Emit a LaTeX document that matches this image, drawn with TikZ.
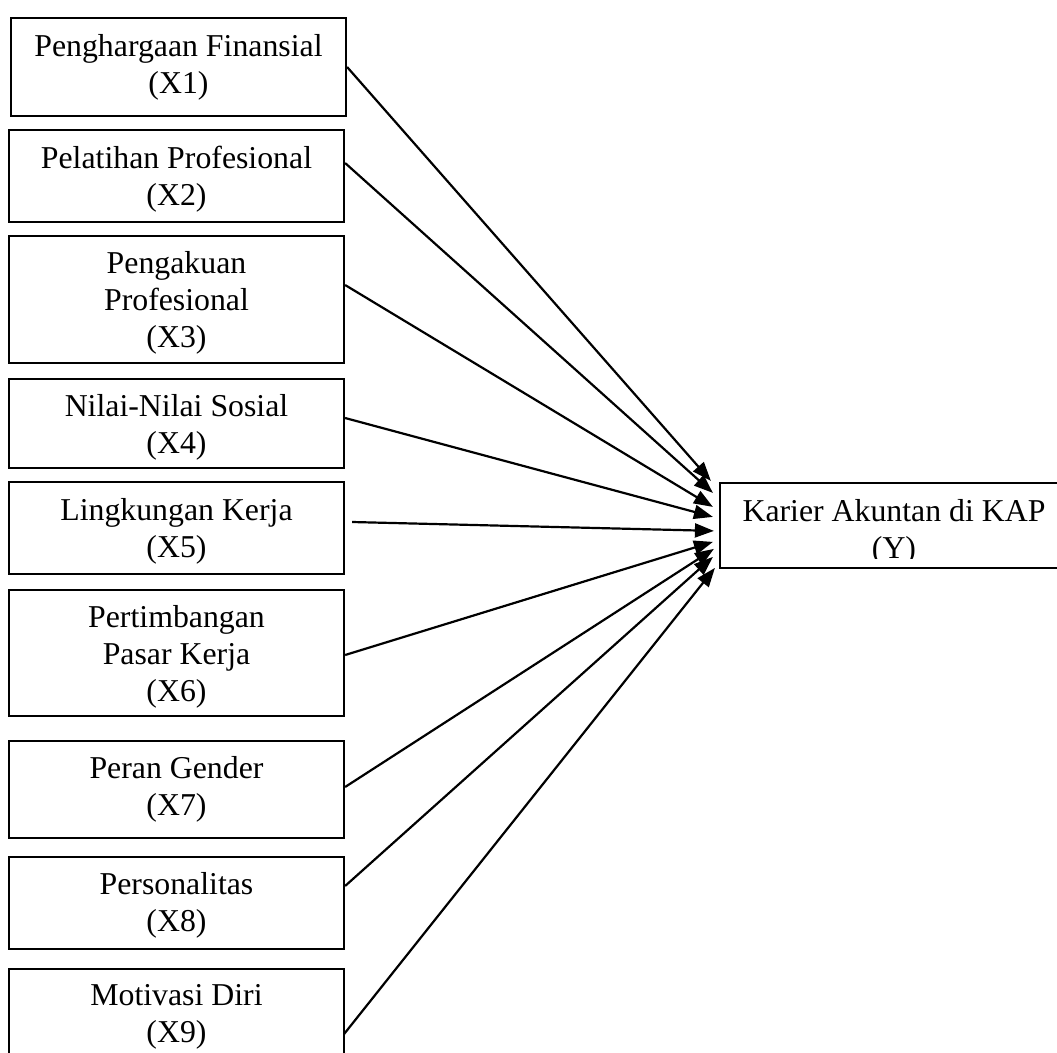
\documentclass[tikz,border=0pt]{standalone}
\usepackage{fontspec}
\setmainfont{Liberation Serif}
\usetikzlibrary{arrows.meta}
\tikzset{
  box/.style={draw, line width=2.2pt, minimum width=335pt, inner sep=0pt, anchor=center},
  lbl/.style={align=center, anchor=base, inner sep=0pt, font=\fontsize{31.8}{37}\selectfont},
  link/.style={line width=2.2pt, -{Triangle[length=19pt,width=14pt]}}
}
\begin{document}
\begin{tikzpicture}[x=1pt,y=1pt]
\clip (0,0) rectangle (1057,-1052);
\fill[white] (0,0) rectangle (1057,-1052);

% boxes
\node[box, minimum height=98pt]  (x1) at (178.5,-67) {};
\node[box, minimum height=92pt]  (x2) at (176.5,-176) {};
\node[box, minimum height=127pt] (x3) at (176.5,-299.5) {};
\node[box, minimum height=89pt]  (x4) at (176.5,-423.5) {};
\node[box, minimum height=92pt]  (x5) at (176.5,-528) {};
\node[box, minimum height=126pt] (x6) at (176.5,-653) {};
\node[box, minimum height=97pt]  (x7) at (176.5,-789.5) {};
\node[box, minimum height=92pt]  (x8) at (176.5,-903) {};
\node[box, minimum height=130pt] (x9) at (176.5,-1034) {};
\node[box, minimum width=348pt, minimum height=85pt] (y) at (894,-525.5) {};

% labels (base anchor = baseline of the last line)
\node[lbl] (t1) at ([yshift=-77pt]x1.north) {Penghargaan Finansial\\(X1)};
\node[lbl] (t2) at ([yshift=-77pt]x2.north) {Pelatihan Profesional\\(X2)};
\node[lbl] (t3) at ([yshift=-113pt]x3.north) {Pengakuan\\Profesional\\(X3)};
\node[lbl] (t4) at ([yshift=-76pt]x4.north) {Nilai-Nilai Sosial\\(X4)};
\node[lbl] (t5) at ([yshift=-77pt]x5.north) {Lingkungan Kerja\\(X5)};
\node[lbl] (t6) at ([yshift=-113pt]x6.north) {Pertimbangan\\Pasar Kerja\\(X6)};
\node[lbl] (t7) at ([yshift=-76pt]x7.north) {Peran Gender\\(X7)};
\node[lbl] (t8) at ([yshift=-76pt]x8.north) {Personalitas\\(X8)};
\node[lbl] (t9) at ([yshift=-75pt]x9.north) {Motivasi Diri\\(X9)};
\begin{scope}
  \clip (720,-483) rectangle (1068,-558);
  \node[lbl] (ty) at ([yshift=-77pt]y.north) {Karier Akuntan di KAP\\(Y)};
\end{scope}

% connector end points
\coordinate (s1) at (x1.east);
\coordinate (s2) at ([yshift=13pt]x2.east);
\coordinate (s3) at ([yshift=14.5pt]x3.east);
\coordinate (s4) at ([yshift=5.5pt]x4.east);
\coordinate (s5) at ([xshift=7pt,yshift=6pt]x5.east);
\coordinate (s6) at ([yshift=-2pt]x6.east);
\coordinate (s7) at ([yshift=2.5pt]x7.east);
\coordinate (s8) at ([yshift=17pt]x8.east);
\coordinate (s9) at ([xshift=-1pt]x9.east);

\coordinate (e1) at ([xshift=-8pt,yshift=1pt]y.north west);
\coordinate (e2) at ([xshift=-6pt,yshift=-11pt]y.north west);
\coordinate (e3) at ([xshift=-6pt,yshift=-25pt]y.north west);
\coordinate (e4) at ([xshift=-6pt,yshift=-35pt]y.north west);
\coordinate (e5) at ([xshift=-5pt,yshift=-49pt]y.north west);
\coordinate (e6) at ([xshift=-6pt,yshift=-60pt]y.north west);
\coordinate (e7) at ([xshift=-5pt,yshift=-67pt]y.north west);
\coordinate (e8) at ([xshift=-6pt,yshift=-75pt]y.north west);
\coordinate (e9) at ([xshift=-4pt,yshift=-86pt]y.north west);

\foreach \i in {1,...,9} {
  \draw[link] (s\i) -- (e\i);
}
\end{tikzpicture}
\end{document}
